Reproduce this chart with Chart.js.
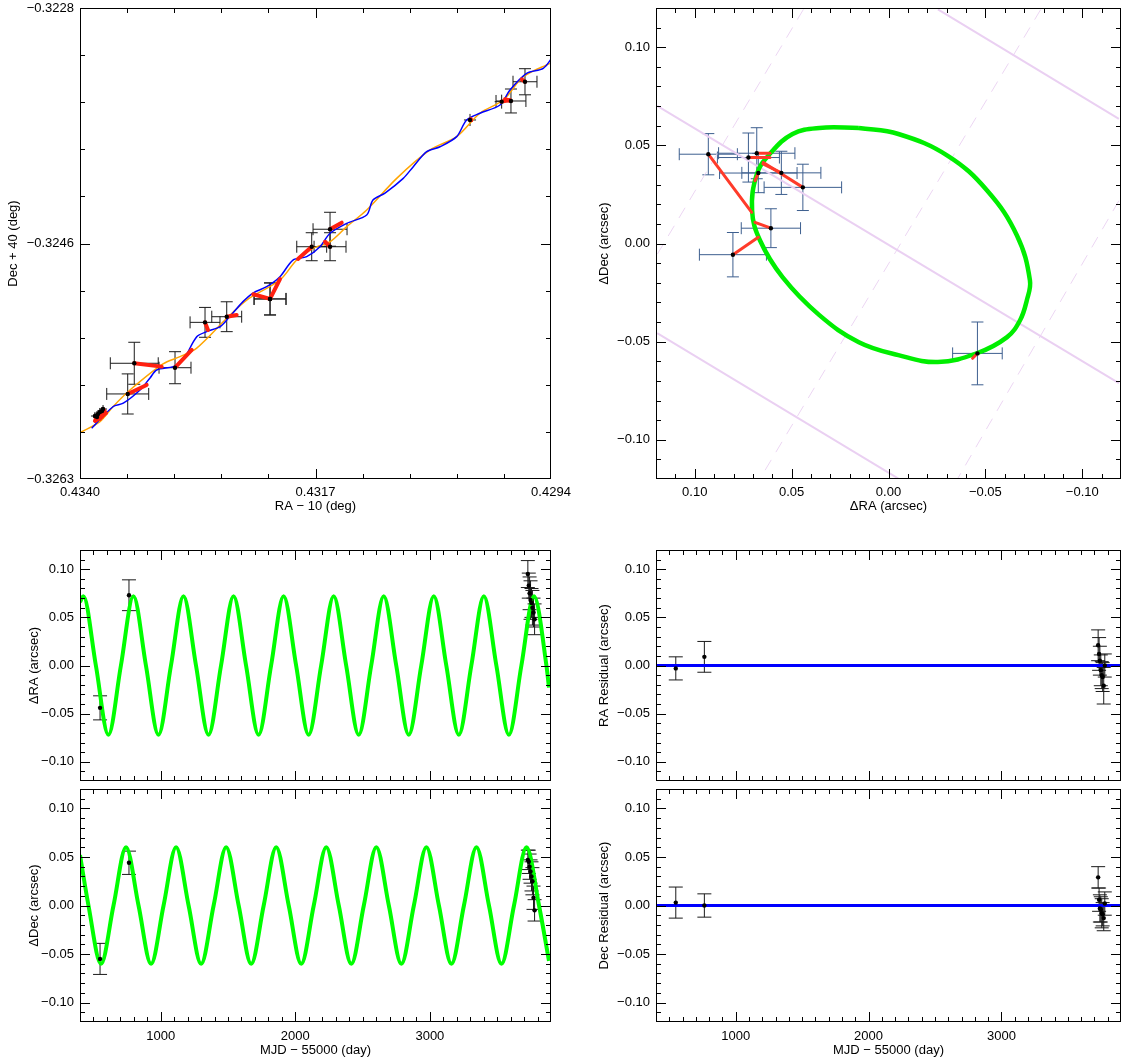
<!DOCTYPE html>
<html>
<head>
<meta charset="utf-8">
<script src="https://cdn.jsdelivr.net/npm/chart.js@4.4.0/dist/chart.umd.min.js"></script>
<style>
  body { margin: 0; background: #fff; width: 1125px; height: 1059px; position: relative; overflow: hidden; }
  canvas { position: absolute; }
</style>
</head>
<body>
<canvas id="sky" width="590" height="520" style="left:0;top:0"></canvas>
<canvas id="orbit" width="565" height="520" style="left:560px;top:0"></canvas>
<canvas id="raTime" width="560" height="255" style="left:0;top:530px"></canvas>
<canvas id="decTime" width="560" height="274" style="left:0;top:785px"></canvas>
<canvas id="raResid" width="565" height="255" style="left:560px;top:530px"></canvas>
<canvas id="decResid" width="565" height="274" style="left:560px;top:785px"></canvas>
<script>
// ---- tick labels ----
const skyRATicks = [0.4294, 0.4317, 0.4340];
const skyDecTicks = [-0.3263, -0.3246, -0.3228];
const offsetTicks = [-0.10, -0.05, 0.00, 0.05, 0.10];
const dayTicks = [1000, 2000, 3000];
const dayRange = [400, 3900];

// ---- sky track (top left), degrees ----
const orangeRA = [0.434000, 0.433805, 0.433678, 0.433512, 0.433189, 0.433023, 0.432860, 0.432567, 0.432372, 0.432047, 0.431884, 0.431725, 0.431558, 0.431395, 0.431200, 0.430907, 0.430582, 0.430321, 0.430094, 0.429866, 0.429671, 0.429410];
const orangeDec = [-0.325956, -0.325874, -0.325763, -0.325639, -0.325445, -0.325391, -0.325327, -0.325106, -0.324970, -0.324821, -0.324673, -0.324586, -0.324537, -0.324425, -0.324301, -0.324066, -0.323855, -0.323756, -0.323582, -0.323484, -0.323311, -0.323211];
const blueRA = [0.433886, 0.433678, 0.433577, 0.433414, 0.433316, 0.433251, 0.433089, 0.432994, 0.432860, 0.432763, 0.432633, 0.432552, 0.432408, 0.432310, 0.432177, 0.432047, 0.431920, 0.431786, 0.431656, 0.431558, 0.431395, 0.431200, 0.431139, 0.431021, 0.430843, 0.430745, 0.430614, 0.430484, 0.430321, 0.430224, 0.430094, 0.429898, 0.429801, 0.429638, 0.429475, 0.429393];
const blueDec = [-0.325923, -0.325763, -0.325737, -0.325639, -0.325549, -0.325490, -0.325465, -0.325416, -0.325243, -0.325205, -0.325168, -0.325106, -0.324982, -0.324918, -0.324871, -0.324797, -0.324673, -0.324648, -0.324574, -0.324474, -0.324400, -0.324338, -0.324227, -0.324175, -0.324066, -0.323979, -0.323868, -0.323831, -0.323756, -0.323632, -0.323582, -0.323521, -0.323409, -0.323285, -0.323248, -0.323174];
const skyObsRA = [0.433854, 0.433824, 0.433805, 0.433785, 0.433834, 0.433775, 0.433470, 0.433534, 0.433072, 0.432779, 0.432567, 0.432144, 0.432144, 0.431737, 0.431558, 0.431558, 0.430191, 0.429882, 0.429791, 0.429654];
const skyObsDec = [-0.325832, -0.325817, -0.325802, -0.325795, -0.325839, -0.325780, -0.325440, -0.325668, -0.325473, -0.325136, -0.325094, -0.324962, -0.324962, -0.324574, -0.324574, -0.324444, -0.323632, -0.323496, -0.323491, -0.323348];
const skyErrRA = [0.000039, 0.000039, 0.000039, 0.000039, 0.000039, 0.000039, 0.000234, 0.000205, 0.000156, 0.000146, 0.000146, 0.000156, 0.000156, 0.000146, 0.000156, 0.000166, 0.000059, 0.000068, 0.000146, 0.000117];
const skyErrDec = [0.00003, 0.00003, 0.00003, 0.00003, 0.00003, 0.00003, 0.000156, 0.000149, 0.000119, 0.000111, 0.000111, 0.000119, 0.000119, 0.000104, 0.000104, 0.000126, 0.000045, 0.000052, 0.000089, 0.000097];
const skyModelRA = [0.433834, 0.433805, 0.433785, 0.433766, 0.433854, 0.433746, 0.433202, 0.433349, 0.432909, 0.432750, 0.432470, 0.432308, 0.432047, 0.431871, 0.431607, 0.431444, 0.430182, 0.429801, 0.429849, 0.429686];
const skyModelDec = [-0.325862, -0.325854, -0.325839, -0.325824, -0.325869, -0.325810, -0.325465, -0.325601, -0.325341, -0.325193, -0.325081, -0.324927, -0.324814, -0.324665, -0.324537, -0.324395, -0.323625, -0.323484, -0.323478, -0.323330];

// ---- relative orbit (top right), arcsec ----
const orbitRA = [0.0153, -0.0051, -0.0306, -0.0510, -0.0663, -0.0730, -0.0714, -0.0679, -0.0612, -0.0459, -0.0255, -0.0051, 0.0153, 0.0357, 0.0546, 0.0663, 0.0704, 0.0679, 0.0612, 0.0495, 0.0357, 0.0153];
const orbitDec = [0.0589, 0.0558, 0.0447, 0.0269, 0.0041, -0.0188, -0.0289, -0.0391, -0.0477, -0.0558, -0.0604, -0.0569, -0.0503, -0.0365, -0.0173, 0.0015, 0.0168, 0.0355, 0.0457, 0.0558, 0.0589, 0.0589];
const offObsRA = [0.0930, 0.0680, 0.0723, 0.0672, 0.0553, 0.0442, 0.0607, 0.0803, -0.0459];
const offObsDec = [0.0455, 0.0460, 0.0438, 0.0359, 0.0360, 0.0286, 0.0078, -0.0057, -0.0560];
const offErrRA = [0.015, 0.0197, 0.016, 0.020, 0.0204, 0.020, 0.0153, 0.0173, 0.0128];
const offErrDec = [0.0105, 0.013, 0.0125, 0.010, 0.011, 0.0118, 0.0099, 0.0113, 0.016];
const offModelRA = [0.0706, 0.0612, 0.0612, 0.0689, 0.0648, 0.0646, 0.0689, 0.0672, -0.0434];
const offModelDec = [0.0159, 0.0460, 0.0438, 0.0320, 0.0406, 0.0413, 0.0108, 0.0032, -0.0585];
// guide lines: [ra1, dec1, ra2, dec2]
const guideSolid = [[0.1194, 0.0701, -0.1189, -0.0711], [-0.0255, 0.1193, -0.1189, 0.0635], [0.1194, -0.0457, -0.0051, -0.1198]];
const guideDashed = [[0.0439, 0.1193, 0.1194, -0.0056], [-0.0786, 0.1193, 0.0663, -0.1198], [-0.1189, 0.0218, -0.0357, -0.1198]];

// ---- time series (bottom), MJD - 55000 ----
const raModelDays = [400, 425, 518, 611, 704, 797, 890, 983, 1076, 1169, 1262, 1355, 1448, 1541, 1634, 1727, 1820, 1913, 2006, 2099, 2192, 2285, 2378, 2471, 2564, 2657, 2750, 2843, 2936, 3029, 3122, 3215, 3308, 3401, 3494, 3587, 3680, 3773, 3866, 3885];
const raModelVals = [0.066, 0.072, 0, -0.072, 0, 0.072, 0, -0.072, 0, 0.072, 0, -0.072, 0, 0.072, 0, -0.072, 0, 0.072, 0, -0.072, 0, 0.072, 0, -0.072, 0, 0.072, 0, -0.072, 0, 0.072, 0, -0.072, 0, 0.072, 0, -0.072, 0, 0.072, 0, -0.023];
const decModelDays = [400, 463, 556, 649, 742, 835, 928, 1021, 1114, 1207, 1300, 1393, 1486, 1579, 1672, 1765, 1858, 1951, 2044, 2137, 2230, 2323, 2416, 2509, 2602, 2695, 2788, 2881, 2974, 3067, 3160, 3253, 3346, 3439, 3532, 3625, 3718, 3811, 3885];
const decModelVals = [0.052, 0, -0.060, 0, 0.060, 0, -0.060, 0, 0.060, 0, -0.060, 0, 0.060, 0, -0.060, 0, 0.060, 0, -0.060, 0, 0.060, 0, -0.060, 0, 0.060, 0, -0.060, 0, 0.060, 0, -0.060, 0, 0.060, 0, -0.060, 0, 0.060, 0, -0.057];
const epochDays = [549, 764, 3728, 3735, 3741, 3748, 3755, 3762, 3770, 3778];
const raOff = [-0.044, 0.073, 0.095, 0.083, 0.075, 0.068, 0.065, 0.060, 0.055, 0.048];
const raOffErr = [0.0125, 0.016, 0.014, 0.013, 0.017, 0.020, 0.015, 0.018, 0.015, 0.016];
const decOff = [-0.055, 0.044, 0.047, 0.045, 0.040, 0.035, 0.030, 0.025, 0.008, -0.005];
const decOffErr = [0.016, 0.012, 0.010, 0.012, 0.013, 0.012, 0.015, 0.014, 0.012, 0.011];
const raRes = [-0.003, 0.009, 0.021, 0.012, 0.005, -0.005, -0.010, -0.012, -0.021, 0.000];
const raResErr = [0.012, 0.016, 0.016, 0.017, 0.015, 0.016, 0.014, 0.015, 0.019, 0.012];
const decRes = [0.003, 0.000, 0.029, 0.006, -0.003, -0.004, -0.008, -0.009, -0.013, 0.002];
const decResErr = [0.016, 0.012, 0.011, 0.012, 0.014, 0.013, 0.015, 0.012, 0.013, 0.012];

const FONT = { family: '"Liberation Sans", Arial, sans-serif', size: 13 };
const minus = s => s.replace('-', '\u2212');

// IDL style: box frame, inward ticks on all four sides, error bars
const idlFrame = {
  id: 'idlFrame',
  beforeDatasetsDraw(chart) {
    const ctx = chart.ctx;
    chart.data.datasets.forEach((ds, i) => {
      if (!ds.errX && !ds.errY) return;
      const meta = chart.getDatasetMeta(i);
      const xs = chart.scales[meta.xAxisID], ys = chart.scales[meta.yAxisID];
      ctx.save();
      ctx.strokeStyle = ds.errColor;
      ctx.lineWidth = 1;
      ctx.beginPath();
      ds.data.forEach((p, j) => {
        const cx = xs.getPixelForValue(p.x), cy = ys.getPixelForValue(p.y);
        if (ds.errX) {
          const a = xs.getPixelForValue(p.x - ds.errX[j]), b = xs.getPixelForValue(p.x + ds.errX[j]);
          const c = Math.abs(b - a) > 16 ? ds.cap : 0;
          ctx.moveTo(a, cy); ctx.lineTo(b, cy);
          if (c) {
            ctx.moveTo(a, cy - c); ctx.lineTo(a, cy + c);
            ctx.moveTo(b, cy - c); ctx.lineTo(b, cy + c);
          }
        }
        if (ds.errY) {
          const a = ys.getPixelForValue(p.y - ds.errY[j]), b = ys.getPixelForValue(p.y + ds.errY[j]);
          const c = Math.abs(b - a) > 16 ? ds.cap : 0;
          ctx.moveTo(cx, a); ctx.lineTo(cx, b);
          if (c) {
            ctx.moveTo(cx - c, a); ctx.lineTo(cx + c, a);
            ctx.moveTo(cx - c, b); ctx.lineTo(cx + c, b);
          }
        }
      });
      ctx.stroke();
      ctx.restore();
    });
  },
  afterDraw(chart) {
    const { ctx, chartArea: a } = chart;
    ctx.save();
    ctx.strokeStyle = '#000';
    ctx.lineWidth = 1;
    ctx.strokeRect(a.left + 0.5, a.top + 0.5, a.right - a.left - 1, a.bottom - a.top - 1);
    ctx.beginPath();
    Object.values(chart.scales).forEach(s => {
      s.ticks.forEach(t => {
        const len = t.isMajor ? 10 : 5;
        const p = Math.round(s.getPixelForValue(t.value)) + 0.5;
        if (s.isHorizontal()) {
          if (p < a.left || p > a.right) return;
          ctx.moveTo(p, a.bottom); ctx.lineTo(p, a.bottom - len);
          ctx.moveTo(p, a.top); ctx.lineTo(p, a.top + len);
        } else {
          if (p < a.top || p > a.bottom) return;
          ctx.moveTo(a.left, p); ctx.lineTo(a.left + len, p);
          ctx.moveTo(a.right, p); ctx.lineTo(a.right - len, p);
        }
      });
    });
    ctx.stroke();
    ctx.restore();
  }
};

// tick lists
function skyTicks(ends) {
  const out = [];
  for (let k = 0; k <= 10; k++) {
    const v = ends[0] + (ends[2] - ends[0]) * k / 10;
    out.push({ value: v, isMajor: k % 5 === 0, text: k % 5 === 0 ? minus(ends[k / 5].toFixed(4)) : '' });
  }
  return out;
}
function offTicks() {
  const out = [];
  for (let k = -12; k <= 12; k++) {
    const v = k / 100;
    const major = offsetTicks.some(t => Math.abs(t - v) < 1e-9);
    out.push({ value: v, isMajor: major, text: major ? minus(v.toFixed(2)) : '' });
  }
  return out;
}
function timeTicks() {
  const out = [];
  for (let d = 500; d < dayRange[1]; d += 100) {
    const major = dayTicks.includes(d);
    out.push({ value: d, isMajor: major, text: major ? String(d) : '' });
  }
  return out;
}

function axis(o) {
  return {
    type: 'linear', min: o.min, max: o.max, reverse: !!o.reverse,
    grid: { display: false, drawTicks: false }, border: { display: false },
    afterBuildTicks: s => { s.ticks = o.ticks.map(t => Object.assign({}, t)); },
    ticks: {
      display: o.labels !== false, autoSkip: false, maxRotation: 0, padding: o.pad || 6,
      color: '#000', font: FONT,
      callback: (v, i, arr) => arr[i].text
    },
    title: o.title ? { display: true, text: o.title, color: '#000', font: FONT, padding: o.titlePad } : { display: false },
    afterFit: s => {
      if (o.horizontal) s.height = o.size; else s.width = o.size;
      s.paddingTop = s.paddingBottom = s.paddingLeft = s.paddingRight = 0;
    }
  };
}

function pts(xs, ys) { return xs.map((x, i) => ({ x, y: ys[i] })); }
function line(xs, ys, color, width, extra) {
  return Object.assign({ type: 'line', data: pts(xs, ys), borderColor: color, borderWidth: width, pointRadius: 0, fill: false, tension: 0 }, extra || {});
}
function connectors(ox, oy, mx, my, color, width) {
  return ox.map((x, i) => line([x, mx[i]], [oy[i], my[i]], color, width, { order: 1, borderCapStyle: 'round' }));
}
function dots(xs, ys, ex, ey, errColor, cap) {
  return { type: 'scatter', data: pts(xs, ys), pointRadius: 2.2, pointBackgroundColor: '#000', pointBorderWidth: 0,
    errX: ex, errY: ey, errColor, cap, order: 0 };
}

function make(id, datasets, scales, padding) {
  new Chart(document.getElementById(id), {
    type: 'line',
    data: { datasets },
    options: {
      responsive: false, animation: false, events: [],
      layout: { padding },
      plugins: { legend: { display: false }, tooltip: { enabled: false } },
      scales
    },
    plugins: [idlFrame]
  });
}

// top left: sky track
make('sky', [
  dots(skyObsRA, skyObsDec, skyErrRA, skyErrDec, '#1a1a1a', 6),
  ...connectors(skyObsRA, skyObsDec, skyModelRA, skyModelDec, '#ff2010', 4),
  line(blueRA, blueDec, '#0000ff', 1.5, { order: 2, tension: 0.3 }),
  line(orangeRA, orangeDec, '#ffa500', 1.5, { order: 3, tension: 0.3 })
], {
  x: axis({ min: skyRATicks[0], max: skyRATicks[2], reverse: true, ticks: skyTicks(skyRATicks), horizontal: true, size: 41, title: 'RA \u2212 10 (deg)', titlePad: { top: 0, bottom: 6 } }),
  y: axis({ min: skyDecTicks[0], max: skyDecTicks[2], ticks: skyTicks(skyDecTicks), size: 80, title: 'Dec + 40 (deg)', titlePad: { top: 6, bottom: 0 } })
}, { top: 8, right: 39, left: 0, bottom: 0 });

// top right: relative orbit
const guides = [
  ...guideSolid.map(g => line([g[0], g[2]], [g[1], g[3]], '#ead0f2', 2, { order: 9 })),
  ...guideDashed.map(g => line([g[0], g[2]], [g[1], g[3]], '#ecd6f3', 1, { order: 9, borderDash: [12, 9] }))
];
make('orbit', [
  dots(offObsRA, offObsDec, offErrRA, offErrDec, '#3d5f8f', 6),
  ...connectors(offObsRA, offObsDec, offModelRA, offModelDec, '#ff3b2a', 3),
  line(orbitRA, orbitDec, '#00ee00', 4.5, { order: 5, tension: 0.4 }),
  ...guides
], {
  x: axis({ min: -0.12, max: 0.12, reverse: true, ticks: offTicks(), horizontal: true, size: 41, title: '\u0394RA (arcsec)', titlePad: { top: 0, bottom: 6 } }),
  y: axis({ min: -0.12, max: 0.12, ticks: offTicks(), size: 96, title: '\u0394Dec (arcsec)', titlePad: { top: 37, bottom: 0 } })
}, { top: 8, right: 2, left: 0, bottom: 0 });

// bottom: offsets and residuals versus time
function timePanel(id, modelDays, modelVals, vals, errs, yTitle, isBottom, left, zeroLine) {
  const ds = [dots(epochDays, vals, null, errs, '#1a1a1a', 7)];
  if (modelDays) ds.push(line(modelDays, modelVals, '#00ff00', 4, { order: 5, cubicInterpolationMode: 'monotone' }));
  if (zeroLine) ds.push(line(dayRange, [0, 0], '#0000ff', 3, { order: 5 }));
  make(id, ds, {
    x: axis({ min: dayRange[0], max: dayRange[1], ticks: timeTicks(), horizontal: true, size: isBottom ? 37 : 0,
      labels: isBottom, pad: 7, title: isBottom ? 'MJD \u2212 55000 (day)' : null, titlePad: { top: 0, bottom: 1 } }),
    y: axis({ min: -0.12, max: 0.12, ticks: offTicks(), size: left ? 80 : 96, title: yTitle, titlePad: { top: left ? 27 : 37, bottom: 0 } })
  }, { top: isBottom ? 0 : 20, right: left ? 9 : 2, left: 0, bottom: 0 });
}
timePanel('raTime', raModelDays, raModelVals, raOff, raOffErr, '\u0394RA (arcsec)', false, true, false);
timePanel('decTime', decModelDays, decModelVals, decOff, decOffErr, '\u0394Dec (arcsec)', true, true, false);
timePanel('raResid', null, null, raRes, raResErr, 'RA Residual (arcsec)', false, false, true);
timePanel('decResid', null, null, decRes, decResErr, 'Dec Residual (arcsec)', true, false, true);
</script>
</body>
</html>
